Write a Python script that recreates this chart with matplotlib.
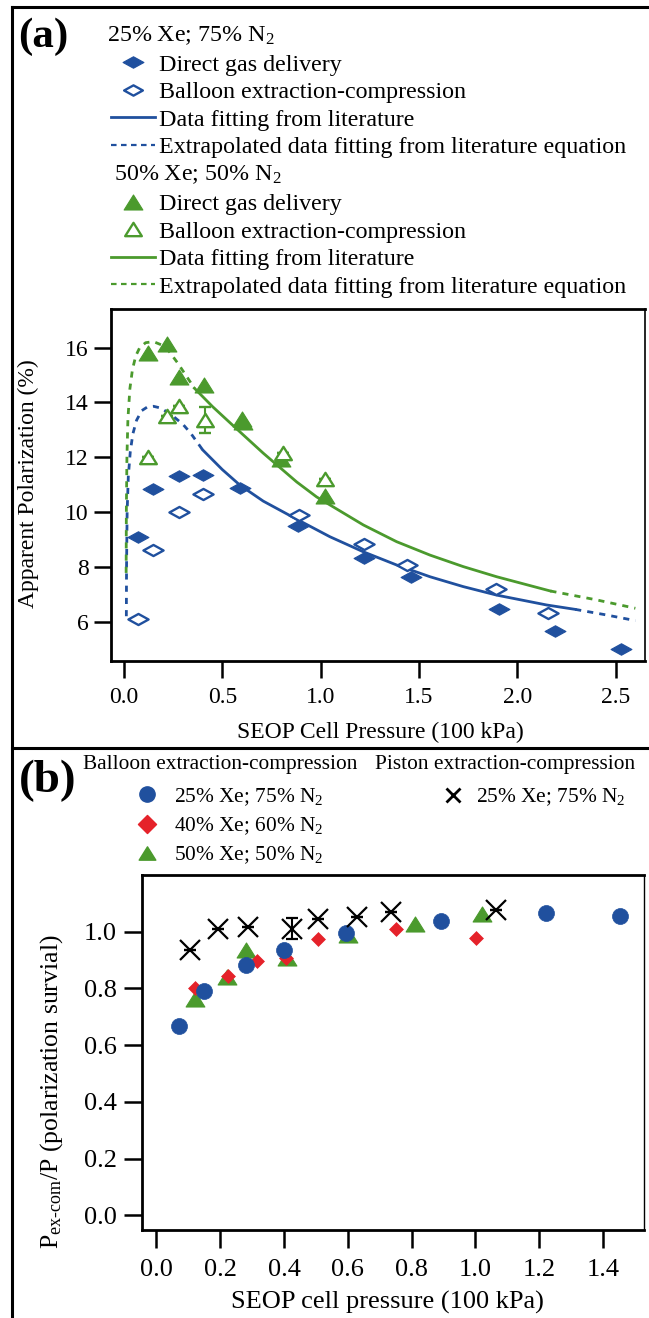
import matplotlib
matplotlib.use("Agg")
import matplotlib.pyplot as plt
from matplotlib.path import Path
from matplotlib.lines import Line2D

plt.rcParams['font.family'] = ['Liberation Serif', 'DejaVu Serif']
plt.rcParams['mathtext.fontset'] = 'custom'
plt.rcParams['mathtext.rm'] = 'Liberation Serif'
plt.rcParams['mathtext.it'] = 'Liberation Serif:italic'
plt.rcParams['mathtext.bf'] = 'Liberation Serif:bold'

# ---------------- panel (a): apparent polarization vs SEOP cell pressure ----------------
# 25% Xe / 75% N2
a25_direct_p = [0.070, 0.148, 0.279, 0.400, 0.590, 0.885, 1.221, 1.457, 1.905, 2.189, 2.526]
a25_direct_pol = [9.10, 10.84, 11.33, 11.36, 10.89, 9.50, 8.31, 7.62, 6.46, 5.66, 5.00]
a25_balloon_p = [0.070, 0.148, 0.279, 0.400, 0.889, 1.221, 1.437, 1.890, 2.157]
a25_balloon_pol = [6.09, 8.62, 10.01, 10.66, 9.89, 8.84, 8.08, 7.20, 6.33]
# 50% Xe / 50% N2
a50_direct_p = [0.121, 0.218, 0.279, 0.405, 0.599, 0.603, 0.800, 1.021]
a50_direct_pol = [15.82, 16.12, 14.94, 14.64, 13.39, 13.28, 11.94, 10.60]
a50_balloon_p = [0.121, 0.218, 0.279, 0.412, 0.808, 1.021]
a50_balloon_pol = [12.02, 13.51, 13.87, 13.36, 12.15, 11.20]
a50_balloon_err = [0, 0, 0, 0.47, 0, 0]

# literature fit curves; solid inside the fitted range, dashed where extrapolated
fit25_p = [0.012, 0.013, 0.016, 0.022, 0.032, 0.045, 0.064, 0.090, 0.120, 0.150,
           0.190, 0.253, 0.300, 0.339, 0.400, 0.500, 0.590, 0.708, 0.878, 1.047,
           1.217, 1.386, 1.556, 1.725, 1.895, 2.149, 2.294, 2.450, 2.600]
fit25_pol = [6.20, 8.00, 10.00, 11.30, 12.20, 12.85, 13.35, 13.70, 13.84, 13.86,
             13.79, 13.48, 13.20, 12.88, 12.27, 11.55, 10.98, 10.40, 9.74, 9.10,
             8.55, 8.07, 7.64, 7.28, 6.97, 6.61, 6.45, 6.25, 6.04]
fit25_range = (0.400, 2.294)

fit50_p = [0.011, 0.012, 0.015, 0.020, 0.030, 0.043, 0.060, 0.080, 0.110, 0.150,
           0.211, 0.274, 0.358, 0.450, 0.548, 0.708, 0.878, 0.980, 1.217, 1.386,
           1.556, 1.725, 1.895, 2.168, 2.400, 2.600]
fit50_pol = [7.78, 10.00, 12.00, 13.40, 14.50, 15.20, 15.70, 16.00, 16.18, 16.22,
             16.04, 15.43, 14.52, 13.85, 13.20, 12.15, 11.10, 10.55, 9.53, 8.92,
             8.43, 8.01, 7.64, 7.12, 6.80, 6.49]
fit50_range = (0.358, 2.168)

# ---------------- panel (b): polarization survival ----------------
b25_p = [0.070, 0.148, 0.280, 0.400, 0.594, 0.891, 1.222, 1.452]
b25_surv = [0.668, 0.792, 0.882, 0.936, 0.994, 1.038, 1.065, 1.056]
b40_p = [0.122, 0.223, 0.315, 0.405, 0.505, 0.751, 1.002]
b40_surv = [0.800, 0.845, 0.897, 0.908, 0.974, 1.008, 0.979]
b50_p = [0.122, 0.220, 0.280, 0.409, 0.599, 0.811, 1.021]
b50_surv = [0.762, 0.842, 0.936, 0.908, 0.988, 1.026, 1.062]
piston_p = [0.104, 0.192, 0.288, 0.425, 0.505, 0.628, 0.734, 1.064]
piston_surv = [0.936, 1.010, 1.018, 1.010, 1.044, 1.051, 1.071, 1.077]
piston_err = [0, 0, 0, 0.037, 0, 0, 0, 0]

xticks_a = [0.0, 0.5, 1.0, 1.5, 2.0, 2.5]
yticks_a = [6, 8, 10, 12, 14, 16]
xticks_b = [0.0, 0.2, 0.4, 0.6, 0.8, 1.0, 1.2, 1.4]
yticks_b = [0.0, 0.2, 0.4, 0.6, 0.8, 1.0]

BLUE = '#20509E'
GREEN = '#4B9A2D'
RED = '#E5222A'

W, H, DPI = 649, 1318, 100

wide_diamond = Path([(-1, 0), (0, 0.55), (1, 0), (0, -0.55), (-1, 0)], closed=True)
diamond = Path([(-1, 0), (0, 1), (1, 0), (0, -1), (-1, 0)], closed=True)
triangle = Path([(0, 0.8), (-1, -0.8), (1, -0.8), (0, 0.8)], closed=True)


def fx(x):
    return x / W


def fy(y):
    return 1 - y / H


def split_fit(xs, ys, rng):
    lo, hi = rng
    solid = [(x, y) for x, y in zip(xs, ys) if lo <= x <= hi]
    low = [(x, y) for x, y in zip(xs, ys) if x <= lo]
    high = [(x, y) for x, y in zip(xs, ys) if x >= hi]
    return [list(zip(*s)) for s in (solid, low, high)]


fig = plt.figure(figsize=(W / DPI, H / DPI), dpi=DPI)

# outer panel frames
for xs, ys in [([12, 12], [6.7, H]), ([12, W], [6.7, 6.7]), ([12, W], [748.3, 748.3])]:
    fig.add_artist(Line2D([fx(v) for v in xs], [fy(v) for v in ys],
                          transform=fig.transFigure, color='black', lw=2.2))

# ======================= panel (a) =======================
axA = fig.add_axes([fx(111), fy(661), (645 - 111) / W, (661 - 309) / H])
axA.set_xlim(-0.066, 2.649)
axA.set_ylim(4.566, 17.41)

dash = (0, (2.2, 2.2))
for xs, ys, rng, col in [(fit25_p, fit25_pol, fit25_range, BLUE),
                         (fit50_p, fit50_pol, fit50_range, GREEN)]:
    solid, low, high = split_fit(xs, ys, rng)
    axA.plot(solid[0], solid[1], color=col, lw=2.0, zorder=2)
    axA.plot(low[0], low[1], color=col, lw=2.0, ls=dash, zorder=2)
    axA.plot(high[0], high[1], color=col, lw=2.0, ls=dash, zorder=2)

axA.plot(a25_direct_p, a25_direct_pol, ls='none', marker=wide_diamond, ms=15,
         mfc=BLUE, mec=BLUE, mew=0.8, zorder=3)
axA.plot(a25_balloon_p, a25_balloon_pol, ls='none', marker=wide_diamond, ms=14.5,
         mfc='white', mec=BLUE, mew=1.7, zorder=4)
axA.plot(a50_direct_p, a50_direct_pol, ls='none', marker=triangle, ms=13.5,
         mfc=GREEN, mec=GREEN, mew=0.8, zorder=3)
axA.errorbar(a50_balloon_p, a50_balloon_pol, yerr=a50_balloon_err, ls='none',
             marker=triangle, ms=12, mfc='white', mec=GREEN, mew=1.7,
             ecolor=GREEN, elinewidth=1.5, capsize=4.3, capthick=1.5, zorder=4)

axA.set_xticks(xticks_a)
axA.set_xticklabels([f'{v:.1f}' for v in xticks_a])
axA.set_yticks(yticks_a)
axA.set_yticklabels([str(v) for v in yticks_a])
axA.tick_params(axis='both', direction='out', length=12, width=1.8,
                labelsize=17, pad=4)
axA.tick_params(axis='x', pad=7)
for side, lw in [('left', 2.0), ('bottom', 2.0), ('top', 2.0), ('right', 1.2)]:
    axA.spines[side].set_linewidth(lw)

fig.text(fx(380), fy(732), 'SEOP Cell Pressure (100 kPa)', ha='center',
         va='center', fontsize=17)
fig.text(fx(28), fy(484), 'Apparent Polarization (%)', ha='center',
         va='center', rotation=90, fontsize=17)
fig.text(fx(43), fy(37), '(a)', ha='center', va='center', fontsize=31,
         fontweight='bold')

# legend of panel (a)
LEG_FS_A = 17.3
leg_px = LEG_FS_A * DPI / 72
fig.text(fx(107), fy(41.5), r'25% Xe; 75% N$_2$', ha='left', va='baseline', fontsize=LEG_FS_A)
fig.text(fx(114), fy(180), r'50% Xe; 50% N$_2$', ha='left', va='baseline', fontsize=LEG_FS_A)


def legend_a(col, marker, ms, center_y):
    handles = [
        Line2D([], [], ls='none', marker=marker, ms=ms, mfc=col, mec=col, mew=0.8),
        Line2D([], [], ls='none', marker=marker, ms=ms - 1.5, mfc='white', mec=col, mew=1.7),
        Line2D([], [], color=col, lw=2.0),
        Line2D([], [], color=col, lw=1.6, ls=(0, (2.5, 2.0))),
    ]
    labels = ['Direct gas delivery', 'Balloon extraction-compression',
              'Data fitting from literature',
              'Extrapolated data fitting from literature equation']
    leg = fig.legend(handles, labels, loc='center left',
                     bbox_to_anchor=(fx(111), fy(center_y)), frameon=False,
                     fontsize=LEG_FS_A, handlelength=44 / leg_px,
                     handletextpad=4 / leg_px, borderpad=0, borderaxespad=0,
                     labelspacing=0.24, handleheight=0.7)
    return leg


legend_a(BLUE, wide_diamond, 15, 106)
legend_a(GREEN, triangle, 13.5, 245.5)

# ======================= panel (b) =======================
axB = fig.add_axes([fx(142), fy(1230), (644 - 142) / W, (1230 - 875) / H])
axB.set_xlim(-0.045, 1.528)
axB.set_ylim(-0.052, 1.2)

axB.plot(b50_p, b50_surv, ls='none', marker=triangle, ms=13.5, mfc=GREEN,
         mec=GREEN, mew=0.8, zorder=3)
axB.plot(b40_p, b40_surv, ls='none', marker=diamond, ms=10, mfc=RED,
         mec=RED, mew=0.5, zorder=4)
axB.plot(b25_p, b25_surv, ls='none', marker='o', ms=11.5, mfc=BLUE,
         mec=BLUE, mew=0.5, zorder=5)
axB.errorbar(piston_p, piston_surv, yerr=piston_err, ls='none', marker='x',
             ms=14.5, mec='black', mew=1.6, ecolor='black', elinewidth=1.5,
             capsize=4.3, capthick=1.5, zorder=6)

axB.set_xticks(xticks_b)
axB.set_xticklabels([f'{v:.1f}' for v in xticks_b])
axB.set_yticks(yticks_b)
axB.set_yticklabels([f'{v:.1f}' for v in yticks_b])
axB.tick_params(axis='both', direction='out', length=13, width=1.8,
                labelsize=19, pad=5)
axB.tick_params(axis='x', pad=8)
for side, lw in [('left', 2.0), ('bottom', 2.0), ('top', 2.0), ('right', 1.0)]:
    axB.spines[side].set_linewidth(lw)

fig.text(fx(387), fy(1302), 'SEOP cell pressure (100 kPa)', ha='center',
         va='center', fontsize=19)
fig.text(fx(52), fy(1092), r'P$_{\mathrm{ex\text{-}com}}$/P (polarization survial)',
         ha='center', va='center', rotation=90, fontsize=18.5)
fig.text(fx(48), fy(781), '(b)', ha='center', va='center', fontsize=34,
         fontweight='bold')

LEG_FS_B = 15.4
legb_px = LEG_FS_B * DPI / 72
fig.text(fx(83), fy(765), 'Balloon extraction-compression', ha='left',
         va='center', fontsize=LEG_FS_B)
fig.text(fx(375), fy(765), 'Piston extraction-compression', ha='left',
         va='center', fontsize=LEG_FS_B)

hb = [Line2D([], [], ls='none', marker='o', ms=11, mfc=BLUE, mec=BLUE),
      Line2D([], [], ls='none', marker=diamond, ms=13, mfc=RED, mec=RED),
      Line2D([], [], ls='none', marker=triangle, ms=12, mfc=GREEN, mec=GREEN)]
fig.legend(hb, [r'25% Xe; 75% N$_2$', r'40% Xe; 60% N$_2$', r'50% Xe; 50% N$_2$'],
           loc='center left', bbox_to_anchor=(fx(132), fy(826)), frameon=False,
           fontsize=LEG_FS_B, handlelength=30 / legb_px,
           handletextpad=12 / legb_px, borderpad=0, borderaxespad=0,
           labelspacing=0.36, handleheight=0.7)
fig.legend([Line2D([], [], ls='none', marker='x', ms=10, mec='black', mew=2.0)],
           [r'25% Xe; 75% N$_2$'], loc='center left',
           bbox_to_anchor=(fx(438), fy(797)), frameon=False, fontsize=LEG_FS_B,
           handlelength=30 / legb_px, handletextpad=8 / legb_px, borderpad=0,
           borderaxespad=0)

fig.savefig('out.png', dpi=DPI)
